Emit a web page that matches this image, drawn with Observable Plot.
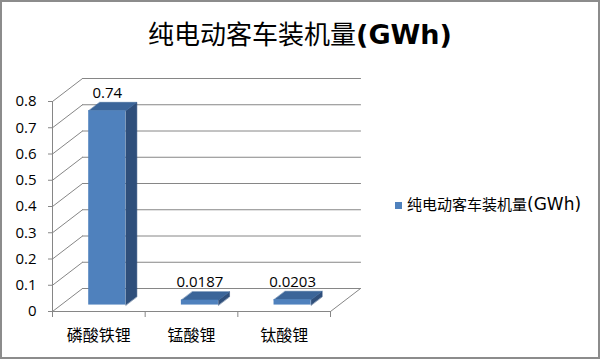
<!DOCTYPE html>
<html><head><meta charset="utf-8">
<script src="https://cdn.jsdelivr.net/npm/d3@7"></script>
<script src="https://cdn.jsdelivr.net/npm/@observablehq/plot@0.6"></script>
<style>
body{margin:0;background:#fff}
#wrap{position:relative;width:600px;height:359px;box-sizing:border-box;border:2px solid #8c8c8c;background:#fff;font-family:"Noto Sans CJK SC",sans-serif;overflow:hidden}
#title{position:absolute;left:0;right:0;top:14px;text-align:center;font-size:26px;line-height:34px;color:#000;white-space:nowrap}
#title .lat{font-family:"DejaVu Sans",sans-serif;font-weight:bold;font-size:27px}
#chart{position:absolute;left:-2px;top:58px}
#legend{position:absolute;left:393px;top:192px;display:flex;align-items:center;font-size:15px;line-height:20px;color:#000;white-space:nowrap}
#legend .sw{display:inline-block;width:7px;height:7px;background:#4F81BD;margin-right:5px;margin-top:3px}
#legend .lat{font-family:"DejaVu Sans",sans-serif;font-size:17px}
</style></head><body>
<div id="wrap">
  <div id="title"></div>
  <div id="chart"></div>
  <div id="legend"><span class="sw"></span><span id="legtext"></span></div>
</div>
<script>
// ---- data ----
const categories = ["磷酸铁锂", "锰酸锂", "钛酸锂"];
const values = [0.74, 0.0187, 0.0203];
const valueLabels = ["0.74", "0.0187", "0.0203"];
const yTicks = [0, 0.1, 0.2, 0.3, 0.4, 0.5, 0.6, 0.7, 0.8];
const yTickLabels = ["0", "0.1", "0.2", "0.3", "0.4", "0.5", "0.6", "0.7", "0.8"];
const seriesNameCJK = "纯电动客车装机量";
const seriesUnit = "(GWh)";

// ---- styling / oblique projection ----
const GRID = "#868686";
const FRONT = "#4F81BD", TOP = "#3B6599", SIDE = "#2F4F7B";
const KX = 0.324, KY = 0.0876;          // full depth offset in data units
const Z0 = 0.28, Z1 = 0.65, HALF = 0.2; // bar depth range and half width
const proj = (x, y, z) => ({x: x + z * KX, y: y + z * KY});
const nCat = categories.length;
const yMax = yTicks[yTicks.length - 1];

document.getElementById("title").innerHTML = seriesNameCJK + '<span class="lat">' + seriesUnit + '</span>';
document.getElementById("legtext").innerHTML = seriesNameCJK + '<span class="lat">' + seriesUnit + '</span>';

const bars = categories.map((c, i) => ({c, i, v: values[i], cx: i + 0.5}));

const gridBack = yTicks.flatMap(v => [{...proj(0, v, 1), k: v}, {...proj(nCat, v, 1), k: v}]);
const gridLeft = yTicks.flatMap(v => [{...proj(0, v, 0), k: v}, {...proj(0, v, 1), k: v}]);
const floorRight = [proj(nCat, 0, 0), proj(nCat, 0, 1)];

const topFaces = bars.flatMap(b => [
  proj(b.cx - HALF, b.v, Z0), proj(b.cx + HALF, b.v, Z0),
  proj(b.cx + HALF, b.v, Z1), proj(b.cx - HALF, b.v, Z1)
].map(p => ({...p, k: b.c})));
const sideFaces = bars.flatMap(b => [
  proj(b.cx + HALF, 0, Z0), proj(b.cx + HALF, b.v, Z0),
  proj(b.cx + HALF, b.v, Z1), proj(b.cx + HALF, 0, Z1)
].map(p => ({...p, k: b.c})));

const tickLabelMap = new Map(yTicks.map((t, i) => [t, yTickLabels[i]]));
const boundaries = d3.range(nCat + 1);
const centers = bars.map(b => b.cx);

const chart = Plot.plot({
  width: 380,
  height: 290,
  marginLeft: 52,
  marginRight: 50,
  marginTop: 41,
  marginBottom: 39,
  x: {domain: [0, nCat], label: null},
  y: {domain: [0, yMax], label: null},
  style: {background: "transparent", color: "#000", overflow: "visible"},
  marks: [
    Plot.line(gridBack, {x: "x", y: "y", z: "k", stroke: GRID, strokeWidth: 1}),
    Plot.line(gridLeft, {x: "x", y: "y", z: "k", stroke: GRID, strokeWidth: 1}),
    Plot.line(floorRight, {x: "x", y: "y", stroke: GRID, strokeWidth: 1}),
    Plot.ruleX([0], {y1: 0, y2: yMax, stroke: GRID}),
    Plot.ruleY([0], {x1: 0, x2: nCat, stroke: GRID}),
    Plot.axisY({ticks: yTicks, tickSize: 4, tickPadding: 12, stroke: GRID, label: null,
      tickFormat: d => tickLabelMap.get(d), fontSize: 15, fontFamily: "Open Sans"}),
    Plot.axisX({ticks: boundaries, tickSize: 6, stroke: GRID, label: null, tickFormat: () => ""}),
    Plot.axisX({ticks: centers, tickSize: 0, tickPadding: 18, label: null,
      tickFormat: d => categories[Math.floor(d)], fontSize: 16, fontFamily: "Noto Sans CJK SC"}),
    Plot.line(sideFaces, {x: "x", y: "y", z: "k", fill: SIDE, stroke: SIDE, strokeWidth: 0.5, curve: "linear-closed"}),
    Plot.line(topFaces, {x: "x", y: "y", z: "k", fill: TOP, stroke: TOP, strokeWidth: 0.5, curve: "linear-closed"}),
    Plot.rect(bars, {x1: b => b.cx - HALF + Z0 * KX, x2: b => b.cx + HALF + Z0 * KX,
      y1: () => Z0 * KY, y2: b => b.v + Z0 * KY, fill: FRONT}),
    Plot.text(bars, {x: b => b.cx + Z0 * KX, y: b => b.v + Z1 * KY, text: b => valueLabels[b.i],
      dy: -9, fontSize: 15, fontFamily: "Open Sans", fill: "#000"})
  ]
});
document.getElementById("chart").appendChild(chart);
</script>
</body></html>
